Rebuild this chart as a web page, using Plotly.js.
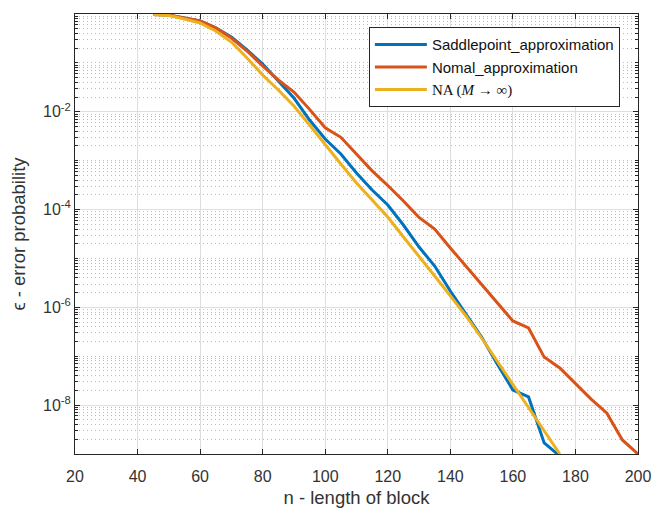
<!DOCTYPE html>
<html>
<head>
<meta charset="utf-8">
<script src="https://cdn.plot.ly/plotly-3.0.1.min.js"></script>
<style>html,body{margin:0;padding:0;background:#fff;}#chart{width:664px;height:509px;}</style>
</head>
<body>
<div id="chart"></div>
<script>
// block lengths
const nSaddle = [45,50,55,60,65,70,75,80,85,90,95,100,105,110,115,120,125,130,135,140,145,150,155,160,165,170,175];
const nNormal = [45,50,55,60,65,70,75,80,85,90,95,100,105,110,115,120,125,130,135,140,145,150,155,160,165,170,175,180,185,190,195,200];
const nNA     = [45,50,55,60,65,70,75,80,85,90,95,100,105,110,115,120,125,130,135,140,145,150,155,160,165,170,175];

// error probabilities
const epsSaddle = [0.98,0.95,0.83,0.72,0.52,0.34,0.184,0.095,0.0427,0.0191,0.00679,0.00277,0.00137,5.6e-4,2.51e-4,1.24e-4,4.83e-5,1.71e-5,7.0e-6,2.16e-6,7.3e-7,2.47e-7,6.9e-8,2.04e-8,1.47e-8,1.68e-9,9.1e-10];
const epsNormal = [0.98,0.95,0.83,0.72,0.52,0.323,0.175,0.0863,0.0447,0.0254,0.0112,0.00470,0.0030,0.001380,6.2e-4,3.10e-4,1.50e-4,6.9e-5,4.0e-5,1.64e-5,7.0e-6,3.0e-6,1.29e-6,5.26e-7,3.78e-7,9.6e-8,5.74e-8,2.83e-8,1.33e-8,6.9e-9,1.94e-9,1.0e-9];
const epsNA     = [0.98,0.93,0.79,0.655,0.449,0.267,0.126,0.0565,0.0279,0.0131,0.00537,0.00209,8.55e-4,3.49e-4,1.57e-4,7.05e-5,2.75e-5,1.12e-5,4.38e-6,1.71e-6,6.65e-7,2.36e-7,8.0e-8,2.58e-8,8.7e-9,2.96e-9,1.0e-9];

const seriesNames = ['Saddlepoint_approximation','Nomal_approximation','<span style="font-family:\'Liberation Serif\',\'DejaVu Serif\',serif">NA (<i>M</i> → ∞)</span>'];
const xTickVals = [20,40,60,80,100,120,140,160,180,200];
const yTickVals = [1e-8,1e-6,1e-4,1e-2];
const yTickText = ['10<sup>-8</sup>','10<sup>-6</sup>','10<sup>-4</sup>','10<sup>-2</sup>'];

const colors = ['#0072BD','#D95319','#EDB120'];
const traces = [
  {x:nSaddle, y:epsSaddle, name:seriesNames[0]},
  {x:nNormal, y:epsNormal, name:seriesNames[1]},
  {x:nNA, y:epsNA, name:seriesNames[2]}
].map((t,i)=>Object.assign(t,{type:'scatter',mode:'lines',line:{color:colors[i],width:3},cliponaxis:true}));

const FONT = 'Liberation Sans, Arial, sans-serif';
const axisCommon = {
  showline:true, linecolor:'#262626', linewidth:1, mirror:'ticks',
  ticks:'inside', ticklen:5, tickcolor:'#262626',
  gridcolor:'#dedede', gridwidth:1, zeroline:false,
  tickfont:{family:FONT, size:16, color:'#333'}
};

const layout = {
  width:664, height:509,
  margin:{l:75, r:26, t:14, b:55},
  paper_bgcolor:'#fff', plot_bgcolor:'#fff',
  showlegend:true,
  legend:{x:0.522, y:0.97, xanchor:'left', yanchor:'top', bgcolor:'#fff', bordercolor:'#262626', borderwidth:1,
          font:{family:FONT, size:15, color:'#111'}, itemwidth:52, tracegroupgap:0},
  xaxis:Object.assign({}, axisCommon, {
    range:[20,200], tickmode:'array', tickvals:xTickVals, ticklabelstandoff:8,
    title:{text:'n - length of block', font:{family:FONT, size:18.5, color:'#333'}, standoff:6}
  }),
  yaxis:Object.assign({}, axisCommon, {
    type:'log', range:[-9,0], tickmode:'array', tickvals:yTickVals, ticktext:yTickText,
    minor:{dtick:'D1', showgrid:true, gridcolor:'#bdbdbd', griddash:'1px,3px', gridwidth:1, ticks:'inside', ticklen:3, tickcolor:'#262626'},
    title:{text:'ϵ - error probability', font:{family:FONT, size:18.5, color:'#333'}, standoff:12}
  })
};

Plotly.newPlot('chart', traces, layout, {displayModeBar:false, staticPlot:true});
</script>
</body>
</html>
